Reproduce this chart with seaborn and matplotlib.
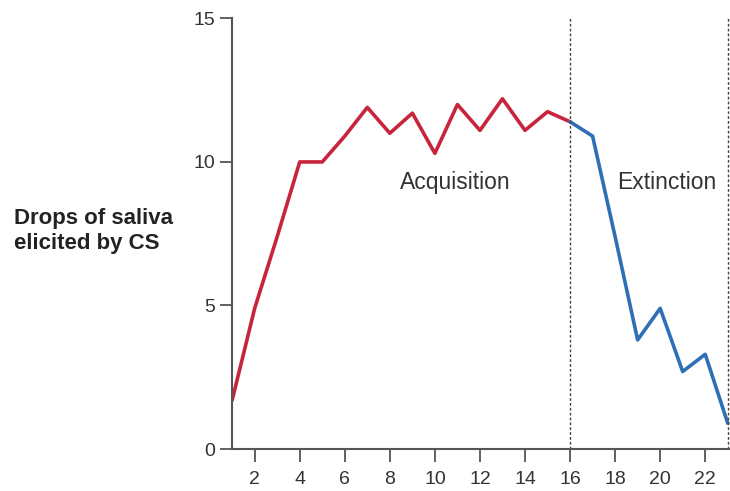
import pandas as pd
import matplotlib.pyplot as plt
import seaborn as sns

# trial numbers and drops of saliva per phase
acq_trials = list(range(1, 17))
acq_drops = [1.7, 4.9, 7.4, 10.0, 10.0, 10.9, 11.9, 11.0, 11.7, 10.3, 12.0, 11.1, 12.2, 11.1, 11.75, 11.4]
ext_trials = list(range(16, 24))
ext_drops = [11.4, 10.9, 7.4, 3.8, 4.9, 2.7, 3.3, 0.9]
phase_names = ['Acquisition', 'Extinction']
phase_colors = ['#c8243c', '#2f6fb5']

df = pd.concat([
    pd.DataFrame({'trial': acq_trials, 'drops': acq_drops, 'phase': phase_names[0]}),
    pd.DataFrame({'trial': ext_trials, 'drops': ext_drops, 'phase': phase_names[1]}),
])

sns.set_style('white')
plt.rcParams['font.family'] = ['Liberation Sans', 'DejaVu Sans']

fig = plt.figure(figsize=(7.3, 4.91), dpi=100)
ax = fig.add_axes([0.318, 0.0855, 0.682, 0.877])

sns.lineplot(data=df, x='trial', y='drops', hue='phase',
             palette=dict(zip(phase_names, phase_colors)),
             linewidth=2.6, legend=False, ax=ax, sort=False)

# phase boundaries
for xb in [16, 23]:
    ax.axvline(xb, color='#444444', linestyle=(0, (2, 1.5)), linewidth=1)

ax.set_xlim(1, 23.1)
ax.set_ylim(0, 15)
ax.set_xticks(range(2, 23, 2))
ax.set_yticks([0, 5, 10, 15])
ax.tick_params(axis='both', labelsize=14, labelcolor='#333333', color='#555555',
               length=9, width=1.3, direction='out', bottom=True, left=True)
ax.tick_params(axis='x', pad=7)
ax.tick_params(axis='y', pad=3)
for s in ['top', 'right']:
    ax.spines[s].set_visible(False)
for s in ['left', 'bottom']:
    ax.spines[s].set_color('#555555')
    ax.spines[s].set_linewidth(1.5)
ax.set_xlabel('')
ax.set_ylabel('')

ax.text(10.9, 9.3, 'Acquisition', ha='center', va='center', fontsize=16.5, color='#333333')
ax.text(20.3, 9.3, 'Extinction', ha='center', va='center', fontsize=16.5, color='#333333')

fig.text(14 / 730, 1 - 231 / 491, 'Drops of saliva\nelicited by CS', ha='left', va='center',
         fontsize=16, fontweight='bold', color='#222222', linespacing=1.2)

fig.savefig('out.png', dpi=100)
